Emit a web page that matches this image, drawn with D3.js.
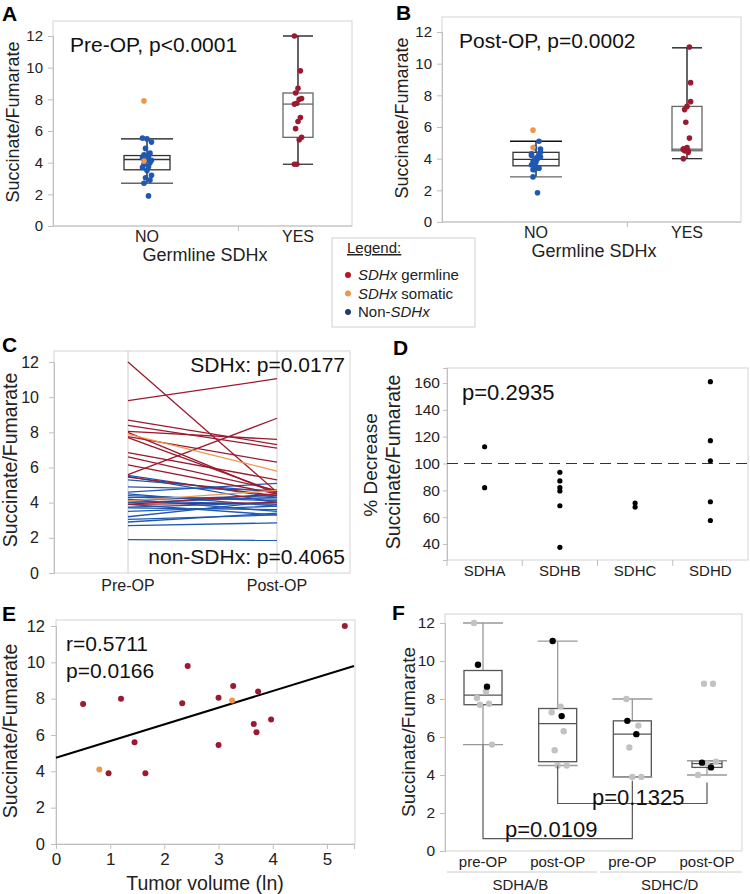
<!DOCTYPE html>
<html><head><meta charset="utf-8">
<script src="https://cdn.jsdelivr.net/npm/d3@7"></script>
<style>
body{margin:0;background:#fff;}
svg text{font-family:"Liberation Sans",Arial,Helvetica,sans-serif;}
</style></head>
<body><svg id="c" width="750" height="894"></svg>
<script>
// ---------------- DATA ----------------
const groupsAB = ["NO", "YES"];
const preNon  = [5.55,5.5,5.3,4.9,4.6,4.5,4.4,4.3,4.2,4.15,4.1,4.0,3.9,3.75,3.7,3.5,3.2,3.05,2.9,2.7,1.9];
const postNon = [4.3,4.0,4.6,4.7,5.1,3.8,4.1,4.2,3.5,4.4,3.9,4.3,3.3,4.0,3.6,3.8,4.1,3.3,3.4,2.85,1.85];
const preSom  = [7.9, 4.1];
const postSom = [5.8, 4.7];
const preGerm  = [12.0,9.8,8.7,8.4,8.05,8.0,7.75,7.7,6.85,6.6,6.15,5.6,5.45,3.9,3.9];
const postGerm = [4.6,11.05,7.3,7.1,7.6,4.5,6.3,4.6,5.3,4.7,4.5,8.8,4.4,4.5,4.0];
const boxPreNo   = [2.7, 3.55, 4.2, 4.45, 5.5];
const boxPreYes  = [3.9, 5.6, 7.7, 8.4, 12.0];
const boxPostNo  = [2.85, 3.55, 3.95, 4.4, 5.1];
const boxPostYes = [4.0, 4.5, 4.6, 7.3, 11.0];
const yTicks12 = [0,2,4,6,8,10,12];
const timeLabels = ["Pre-OP","Post-OP"];
const legendLabels = [["SDHx"," germline"],["SDHx"," somatic"],["Non-","SDHx"]];

const genes = ["SDHA","SDHB","SDHC","SDHD"];
const decSDHA = [112.5, 82];
const decSDHB = [93.5, 87, 82, 79.5, 68.5, 37.5];
const decSDHC = [70.5, 67.5];
const decSDHD = [161, 117, 102, 71.5, 57.5];
const dTicks = [40,60,80,100,120,140,160];

const tumorVol  = [0.5,0.8,0.97,1.2,1.45,1.65,2.33,2.43,3.0,3.0,3.27,3.25,3.65,3.7,3.73,3.97,5.33];
const tumorSF   = [7.7,4.1,3.9,8.0,5.6,3.9,7.75,9.8,8.05,5.45,8.7,7.9,6.6,6.15,8.4,6.85,12.0];
const tumorType = ["g","s","g","g","g","g","g","g","g","g","g","s","g","g","g","g","g"];
const fitIntercept = 4.75, fitSlope = 0.918;
const eTicksX = [0,1,2,3,4,5];

const fCats = ["pre-OP","post-OP","pre-OP","post-OP"];
const fGroups = ["SDHA/B","SDHC/D"];
const fBlack = [[9.8,8.65],[11.05,7.1],[6.85,6.15],[4.65,4.4]];
const fGray  = [[12.0,8.4,8.05,7.75,7.7,5.6],[7.6,7.3,6.3,5.3,4.5,4.5],[8.0,6.6,5.45,3.9,3.9],[8.8,8.8,4.7,4.6,4.0]];
const fBoxes = [[5.6,7.7,8.2,9.5,12.0],[4.5,4.7,6.7,7.5,11.05],[3.9,3.9,6.15,6.85,8.0],[4.0,4.4,4.6,4.75,4.75]];
const fBrFrom = [0, 1], fBrTo = [2, 3];
const fBrStartA = [5.6, 4.5], fBrStartB = [3.7, 3.6], fBrLevel = [0.65, 2.5];
const fBrLabel = ["p=0.0109", "p=0.1325"];

// ---------------- STYLE ----------------
const RED = "#9b1a2f", BLUE = "#1f58b0", ORANGE = "#f0964a";
const AX = "#bfbfbf", FR = "#d4d4d4", TXT = "#222";
const svg = d3.select("#c");

function styleAxis(sel, fs) {
  sel.select(".domain").attr("stroke", AX);
  sel.selectAll(".tick line").attr("stroke", AX);
  sel.selectAll(".tick text").attr("fill", TXT).attr("font-size", fs)
     .attr("font-family", '"Liberation Sans",Arial,sans-serif');
}
function frame(x0, y0, x1, y1) {
  svg.append("rect").attr("x", x0).attr("y", y0).attr("width", x1 - x0).attr("height", y1 - y0)
     .attr("fill", "none").attr("stroke", FR).attr("stroke-width", 1);
}
function letter(t, x, y) {
  svg.append("text").attr("x", x).attr("y", y).attr("font-size", 21).attr("font-weight", "bold").text(t);
}
function yLabel(t, x, y, fs) {
  svg.append("text").attr("transform", `translate(${x},${y}) rotate(-90)`).attr("text-anchor", "middle")
     .attr("dy", "0.35em").attr("font-size", fs).attr("fill", TXT).text(t);
}
function jit(i, k, a) { return ((i * k) % 7 - 3) * a; }
function box(cx, s, w, cw, y, boxStroke, whStroke, lowCapStroke) {
  const g = svg.append("g");
  g.append("line").attr("x1", cx).attr("x2", cx).attr("y1", y(s[0])).attr("y2", y(s[4])).attr("stroke", whStroke).attr("stroke-width", 1.3);
  g.append("rect").attr("x", cx - w / 2).attr("y", y(s[3])).attr("width", w).attr("height", y(s[1]) - y(s[3]))
   .attr("fill", "#fff").attr("stroke", boxStroke).attr("stroke-width", 1.3);
  g.append("line").attr("x1", cx - w / 2).attr("x2", cx + w / 2).attr("y1", y(s[2])).attr("y2", y(s[2])).attr("stroke", boxStroke).attr("stroke-width", 1.3);
  g.append("line").attr("x1", cx - cw / 2).attr("x2", cx + cw / 2).attr("y1", y(s[4])).attr("y2", y(s[4])).attr("stroke", whStroke).attr("stroke-width", 1.3);
  g.append("line").attr("x1", cx - cw / 2).attr("x2", cx + cw / 2).attr("y1", y(s[0])).attr("y2", y(s[0])).attr("stroke", lowCapStroke).attr("stroke-width", 1.3);
  return g;
}

// ---------------- PANELS A & B ----------------
function panelAB(dx, dy, L, lx, ly, title, bNo, bYes, non, som, germ) {
  const x0 = 53 + dx, x1 = 352 + dx;
  const y = d3.scaleLinear().domain([0, 12]).range([226 + dy, 36 + dy]);
  const x = d3.scalePoint().domain(groupsAB).range([147 + dx, 298 + dx]);
  frame(x0, 21 + dy, x1, 226 + dy);
  const ga = svg.append("g").attr("transform", `translate(${x0},0)`)
    .call(d3.axisLeft(y).tickValues(yTicks12).tickSize(5).tickPadding(5));
  styleAxis(ga, 15);
  svg.append("line").attr("x1", x0).attr("x2", x1).attr("y1", y(0)).attr("y2", y(0)).attr("stroke", AX);
  const mid = x0 + (x1 - x0) * 0.62;
  svg.append("line").attr("x1", mid).attr("x2", mid).attr("y1", y(0)).attr("y2", y(0) + 5).attr("stroke", AX);
  groupsAB.forEach(gname => svg.append("text").attr("x", x(gname)).attr("y", y(0) + 16).attr("text-anchor", "middle")
     .attr("font-size", 16).attr("fill", TXT).text(gname));
  svg.append("text").attr("x", 205 + dx).attr("y", y(0) + 35).attr("text-anchor", "middle").attr("font-size", 18).attr("fill", TXT).text("Germline SDHx");
  yLabel("Succinate/Fumarate", 13 + dx, 122 + dy, 18);
  letter(L, lx, ly);
  svg.append("text").attr("x", 70 + dx).attr("y", 52 + dy).attr("font-size", 21).attr("fill", "#111").text(title);

  box(x("NO"), bNo, 46, 52, y, "#333", "#111", "#666");
  box(x("YES"), bYes, 30, 30, y, "#666", "#111", "#333");
  svg.append("g").selectAll("circle").data(non).join("circle")
     .attr("cx", (d, i) => x("NO") + jit(i, 3, 1.5)).attr("cy", d => y(d)).attr("r", 2.8).attr("fill", BLUE);
  svg.append("g").selectAll("circle").data(som).join("circle")
     .attr("cx", d => x("NO") - 3).attr("cy", d => y(d)).attr("r", 2.8).attr("fill", ORANGE);
  svg.append("g").selectAll("circle").data(germ).join("circle")
     .attr("cx", (d, i) => x("YES") + jit(i, 5, 1.2)).attr("cy", d => y(d)).attr("r", 2.8).attr("fill", RED);
}
panelAB(0, 0, "A", 2, 21, "Pre-OP, p<0.0001", boxPreNo, boxPreYes, preNon, preSom, preGerm);
panelAB(389, -4, "B", 396, 20, "Post-OP, p=0.0002", boxPostNo, boxPostYes, postNon, postSom, postGerm);

// ---------------- LEGEND ----------------
svg.append("rect").attr("x", 332).attr("y", 238).attr("width", 143).attr("height", 89).attr("fill", "#fff").attr("stroke", "#cfcfcf");
svg.append("text").attr("x", 347).attr("y", 253).attr("font-size", 15).attr("fill", TXT).attr("text-decoration", "underline").text("Legend:");
const legCols = ["#b8141f", ORANGE, "#1f3c78"];
legendLabels.forEach((lab, i) => {
  const yy = 275 + i * 18.5;
  svg.append("circle").attr("cx", 348).attr("cy", yy).attr("r", 3).attr("fill", legCols[i]);
  const t = svg.append("text").attr("x", 358).attr("y", yy + 5).attr("font-size", 15).attr("fill", TXT);
  if (i < 2) { t.append("tspan").attr("font-style", "italic").text(lab[0]); t.append("tspan").text(lab[1]); }
  else { t.append("tspan").text(lab[0]); t.append("tspan").attr("font-style", "italic").text(lab[1]); }
});

// ---------------- PANEL C ----------------
(function () {
  const x0 = 54, x1 = 350;
  const y = d3.scaleLinear().domain([0, 12]).range([573, 362]);
  const x = d3.scalePoint().domain(timeLabels).range([128, 277]);
  frame(x0, 351, x1, 573);
  timeLabels.forEach(t => svg.append("line").attr("x1", x(t)).attr("x2", x(t)).attr("y1", 351).attr("y2", 573).attr("stroke", "#cccccc"));
  const ga = svg.append("g").attr("transform", `translate(${x0},0)`).call(d3.axisLeft(y).tickValues(yTicks12).tickSize(5).tickPadding(10));
  styleAxis(ga, 16);
  timeLabels.forEach(t => svg.append("text").attr("x", x(t)).attr("y", 591).attr("text-anchor", "middle").attr("font-size", 16).attr("fill", TXT).text(t));
  const line = (a, b, col) => svg.append("line").attr("x1", x("Pre-OP")).attr("y1", y(a)).attr("x2", x("Post-OP")).attr("y2", y(b))
    .attr("stroke", col).attr("stroke-width", 1.3);
  preNon.forEach((v, i) => line(v, postNon[i], BLUE));
  preGerm.forEach((v, i) => line(v, postGerm[i], RED));
  preSom.forEach((v, i) => line(v, postSom[i], ORANGE));
  yLabel("Succinate/Fumarate", 10, 460, 19.5);
  letter("C", 2, 352);
  svg.append("text").attr("x", 345).attr("y", 372).attr("text-anchor", "end").attr("font-size", 21).attr("fill", "#111").text("SDHx: p=0.0177");
  svg.append("text").attr("x", 345).attr("y", 564).attr("text-anchor", "end").attr("font-size", 21).attr("fill", "#111").text("non-SDHx: p=0.4065");
})();

// ---------------- PANEL D ----------------
(function () {
  const x0 = 447, x1 = 748;
  const y = d3.scaleLinear().domain([28.07, 171.2]).range([560, 368]);
  const x = d3.scaleBand().domain(genes).range([x0, x1]);
  frame(x0, 368, x1, 560);
  const ga = svg.append("g").attr("transform", `translate(${x0},0)`).call(d3.axisLeft(y).tickValues(dTicks).tickSize(4).tickPadding(3));
  styleAxis(ga, 15.5);
  genes.forEach((gname, i) => {
    svg.append("line").attr("x1", x(gname)).attr("x2", x(gname)).attr("y1", 560).attr("y2", 566).attr("stroke", AX);
    svg.append("text").attr("x", x(gname) + x.bandwidth() / 2).attr("y", 576).attr("text-anchor", "middle").attr("font-size", 15).attr("fill", TXT).text(gname);
  });
  svg.append("line").attr("x1", x0).attr("x2", x1).attr("y1", y(100)).attr("y2", y(100)).attr("stroke", "#333").attr("stroke-width", 1.2).attr("stroke-dasharray", "11,6");
  [decSDHA, decSDHB, decSDHC, decSDHD].forEach((arr, gi) => {
    svg.append("g").selectAll("circle").data(arr).join("circle")
      .attr("cx", x(genes[gi]) + x.bandwidth() / 2).attr("cy", d => y(d)).attr("r", 2.6).attr("fill", "#000");
  });
  yLabel("% Decrease", 370, 465, 19);
  yLabel("Succinate/Fumarate", 393, 462, 19.5);
  letter("D", 393, 355);
  svg.append("text").attr("x", 462).attr("y", 400).attr("font-size", 22).attr("fill", "#111").text("p=0.2935");
})();

// ---------------- PANEL E ----------------
(function () {
  const x0 = 56, x1 = 355;
  const x = d3.scaleLinear().domain([0, 5.5]).range([56, 354]);
  const y = d3.scaleLinear().domain([0, 12]).range([844, 626]);
  frame(x0, 620, x1, 844);
  const ga = svg.append("g").attr("transform", `translate(${x0},0)`).call(d3.axisLeft(y).tickValues(yTicks12).tickSize(5).tickPadding(6));
  styleAxis(ga, 16.5);
  const gb = svg.append("g").attr("transform", `translate(0,844)`).call(d3.axisBottom(x).tickValues(eTicksX).tickSize(5).tickPadding(4).tickFormat(d3.format("d")));
  styleAxis(gb, 17);
  svg.append("line").attr("x1", x(0)).attr("y1", y(fitIntercept)).attr("x2", x(5.5)).attr("y2", y(fitIntercept + fitSlope * 5.5))
     .attr("stroke", "#000").attr("stroke-width", 2);
  svg.append("g").selectAll("circle").data(tumorVol).join("circle")
     .attr("cx", d => x(d)).attr("cy", (d, i) => y(tumorSF[i])).attr("r", 3)
     .attr("fill", (d, i) => tumorType[i] === "s" ? ORANGE : RED);
  yLabel("Succinate/Fumarate", 10, 731, 19.5);
  svg.append("text").attr("x", 205).attr("y", 890).attr("text-anchor", "middle").attr("font-size", 19.5).attr("fill", TXT).text("Tumor volume (ln)");
  letter("E", 2, 621);
  svg.append("text").attr("x", 66).attr("y", 651).attr("font-size", 21).attr("fill", "#111").text("r=0.5711");
  svg.append("text").attr("x", 66).attr("y", 678).attr("font-size", 21).attr("fill", "#111").text("p=0.0166");
})();

// ---------------- PANEL F ----------------
(function () {
  const x0 = 445, x1 = 742;
  const y = d3.scaleLinear().domain([0, 12]).range([851, 623]);
  const x = d3.scalePoint().domain(d3.range(fCats.length)).range([483, 707]);
  frame(x0, 614, x1, 851);
  const ga = svg.append("g").attr("transform", `translate(${x0},0)`).call(d3.axisLeft(y).tickValues(yTicks12).tickSize(5).tickPadding(5));
  styleAxis(ga, 15.5);
  fCats.forEach((c, i) => svg.append("text").attr("x", x(i)).attr("y", 867).attr("text-anchor", "middle").attr("font-size", 15).attr("fill", TXT).text(c));
  fGroups.forEach((gname, gi) => {
    const a = x(gi * 2), b = x(gi * 2 + 1);
    svg.append("text").attr("x", (a + b) / 2).attr("y", 890).attr("text-anchor", "middle").attr("font-size", 15).attr("fill", TXT).text(gname);
  });
  svg.append("line").attr("x1", 447).attr("x2", 597).attr("y1", 872).attr("y2", 872).attr("stroke", "#ccc");
  svg.append("line").attr("x1", 600).attr("x2", x1).attr("y1", 872).attr("y2", 872).attr("stroke", "#ccc");
  fBoxes.forEach((s, i) => box(x(i), s, i === 3 ? 30 : 38, 40, y, "#555", "#999", "#999"));
  fGray.forEach((arr, ci) => {
    svg.append("g").selectAll("circle").data(arr).join("circle")
      .attr("cx", (d, i) => x(ci) + jit(i + ci, 4, 3)).attr("cy", d => y(d)).attr("r", 3.2).attr("fill", "#c2c2c2");
  });
  fBlack.forEach((arr, ci) => {
    svg.append("g").selectAll("circle").data(arr).join("circle")
      .attr("cx", (d, i) => x(ci) + (i === 0 ? -5 : 4)).attr("cy", d => y(d)).attr("r", 3.2).attr("fill", "#000");
  });
  fBrFrom.forEach((f, i) => {
    const p = d3.path();
    p.moveTo(x(f), y(fBrStartA[i]));
    p.lineTo(x(f), y(fBrLevel[i]));
    p.lineTo(x(fBrTo[i]), y(fBrLevel[i]));
    p.lineTo(x(fBrTo[i]), y(fBrStartB[i]));
    svg.append("path").attr("d", p.toString()).attr("fill", "none").attr("stroke", "#555").attr("stroke-width", 1.2);
  });
  svg.append("text").attr("x", 505).attr("y", 837).attr("font-size", 22).attr("fill", "#111").text(fBrLabel[0]);
  svg.append("text").attr("x", 592).attr("y", 805).attr("font-size", 22).attr("fill", "#111").text(fBrLabel[1]);
  yLabel("Succinate/Fumarate", 408, 732, 19);
  letter("F", 392, 620);
})();
</script>
</body></html>
